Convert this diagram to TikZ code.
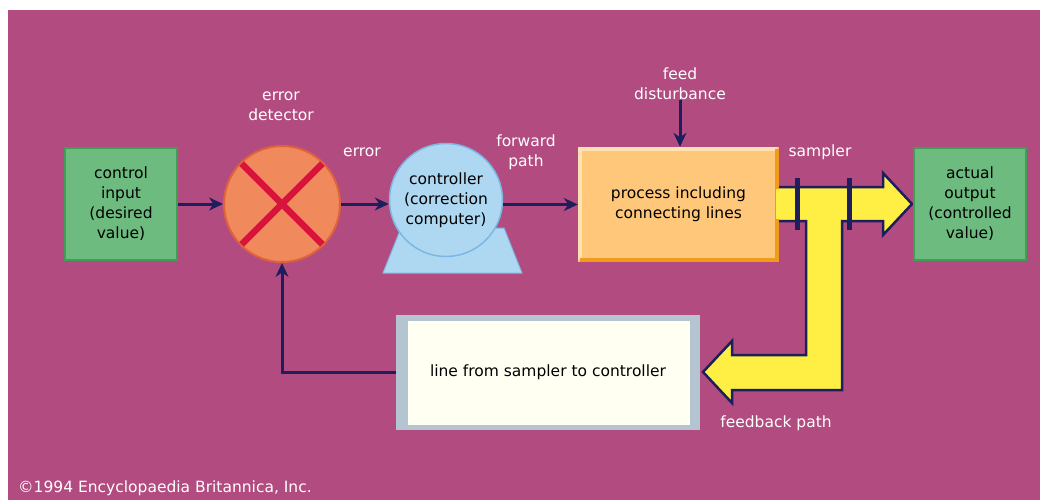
\documentclass[tikz,border=0pt]{standalone}
\usepackage{fontspec}
\setmainfont{DejaVu Sans}
\usepackage{tikz}
\usetikzlibrary{arrows.meta}
\definecolor{bgmag}{HTML}{B24C80}
\definecolor{navy}{HTML}{1C1F5C}
\definecolor{boxgreen}{HTML}{6DBB7F}
\definecolor{edgegreen}{HTML}{3F9E55}
\definecolor{salmon}{HTML}{F08A5D}
\definecolor{salmonedge}{HTML}{E0623A}
\definecolor{crossred}{HTML}{D8143C}
\definecolor{ctrlblue}{HTML}{AED8F2}
\definecolor{ctrledge}{HTML}{7DB6E0}
\definecolor{procfill}{HTML}{FFC77A}
\definecolor{proclight}{HTML}{FFE2B4}
\definecolor{procdark}{HTML}{F29A1C}
\definecolor{pipe}{HTML}{FFEE44}
\definecolor{cream}{HTML}{FFFFF2}
\definecolor{fbgrey}{HTML}{B4C4D0}

\begin{document}
\begin{tikzpicture}[x=1pt,y=-1pt,every node/.style={font=\fontsize{15.5}{20}\selectfont,align=center,inner sep=0pt},
  lbl/.style={text=white},
  greenbox/.style={fill=boxgreen,draw=edgegreen,line width=2pt,minimum width=112pt,minimum height=112pt},
  link/.style={navy,line width=3pt,-{Stealth[length=14pt,width=13pt]}}]
  \fill[white] (0,0) rectangle (1040,500);
  \fill[bgmag] (8,10) rectangle (1040,500);
  \useasboundingbox (0,0) rectangle (1040,500);
  \node[greenbox](input) at (121,204){control\\input\\(desired\\value)};
  \node[circle,fill=salmon,draw=salmonedge,line width=2pt,minimum size=116pt](detector) at (282,204){};
  \draw[crossred,line width=6.5pt,shorten <=2pt,shorten >=2pt] (detector.north west) -- (detector.south east);
  \draw[crossred,line width=6.5pt,shorten <=2pt,shorten >=2pt] (detector.north east) -- (detector.south west);
  \node[lbl](detlabel) at (281,106){error\\detector};
  \fill[ctrlblue,draw=ctrledge,line width=1pt] (401,228) -- (383,273) -- (522,273) -- (504,228) -- cycle;
  \node[circle,fill=ctrlblue,draw=ctrledge,line width=1.5pt,minimum size=113pt](controller) at (446,200){controller\\(correction\\computer)};
  \node[lbl](errlabel) at (362,152){error};
  \node[lbl](fwdlabel) at (526,152){forward\\path};
  \node[fill=procfill,minimum width=201pt,minimum height=115pt](process) at (678.5,204.5){process including\\connecting lines};
  \draw[proclight,line width=4pt] ([shift={(2,-2)}]process.south west) -- ([shift={(2,2)}]process.north west) -- ([shift={(-2,2)}]process.north east);
  \draw[procdark,line width=4pt] ([shift={(-2,2)}]process.north east) -- ([shift={(-2,-2)}]process.south east) -- ([shift={(2,-2)}]process.south west);
  \node[lbl](feed) at (680,84){feed\\disturbance};
  \draw[link] (feed.south) -- (feed.south |- process.north);
  \filldraw[fill=pipe,draw=navy,line width=2.5pt] (779,187) -- (883,187) -- (883,173) -- (912,204) -- (883,235) -- (883,221) -- (842,221) -- (842,390) -- (732,390) -- (732,403) -- (703,372) -- (732,341) -- (732,355) -- (806,355) -- (806,221) -- (779,221);
  \fill[pipe] (776,189) rectangle (781,219);
  \draw[navy,line width=5pt] (797,178) -- (797,230);
  \draw[navy,line width=5pt] (849,178) -- (849,230);
  \node[lbl](sampler) at (820,152){sampler};
  \node[greenbox](output) at (970,204){actual\\output\\(controlled\\value)};
  \node[fill=fbgrey,minimum width=304pt,minimum height=115pt,
    path picture={\fill[cream] ([shift={(12,6)}]path picture bounding box.north west) rectangle ([shift={(-10,-5)}]path picture bounding box.south east);}](feedback) at (548,372.5){line from sampler to controller};
  \node[lbl](fblabel) at (776,423){feedback path};
  \node[lbl,anchor=west](copyright) at (18,488){©1994 Encyclopaedia Britannica, Inc.};
  \draw[link] (input.east) -- (detector.west);
  \draw[link] (detector.east) -- (detector.east -| controller.west);
  \draw[link] (controller.east |- process.west) -- (process.west);
  \draw[link] (feedback.west) -| (detector.south);
\end{tikzpicture}
\end{document}
